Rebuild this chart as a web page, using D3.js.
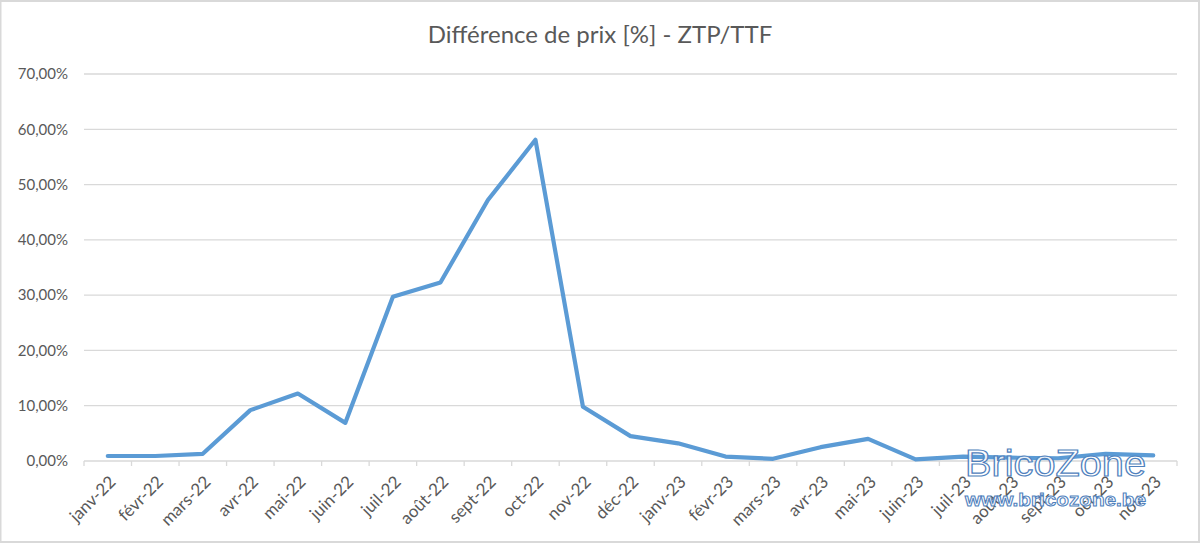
<!DOCTYPE html>
<html>
<head>
<meta charset="utf-8">
<script src="https://cdn.jsdelivr.net/npm/d3@7"></script>
<style>
  body { margin: 0; background: #fff; }
  svg { display: block; }
  .tick-label { font-family: Lato, "Open Sans", sans-serif; font-size: 15px; fill: #595959; }
  .x-label { font-size: 17px; }
</style>
</head>
<body>
<div id="chart"></div>
<script>
// Chart data
const months = ['janv-22', 'févr-22', 'mars-22', 'avr-22', 'mai-22', 'juin-22', 'juil-22', 'août-22',
    'sept-22', 'oct-22', 'nov-22', 'déc-22', 'janv-23', 'févr-23', 'mars-23', 'avr-23', 'mai-23',
    'juin-23', 'juil-23', 'août-23', 'sept-23', 'oct-23', 'nov-23'];
const diffPct = [0.9, 0.9, 1.3, 9.2, 12.2, 6.9, 29.7, 32.3, 47.2, 58.1, 9.8, 4.5, 3.2, 0.8, 0.4,
    2.5, 4.0, 0.3, 0.8, 0.6, 0.5, 1.3, 1.0];
const yTicks = [0, 10, 20, 30, 40, 50, 60, 70];
const title = 'Différence de prix [%] - ZTP/TTF';

const W = 1200, H = 544;
const margin = { top: 74, right: 23, bottom: 83, left: 84 };
const width = W - margin.left - margin.right;
const height = H - margin.top - margin.bottom;

const svg = d3.select('#chart').append('svg')
    .attr('width', W)
    .attr('height', H);

// outer frame
svg.append('rect')
    .attr('x', 0.5).attr('y', 1)
    .attr('width', W - 1.5).attr('height', H - 3)
    .attr('fill', '#fff')
    .attr('stroke', '#d9d9d9')
    .attr('stroke-width', 2);

svg.append('text')
    .attr('x', 600)
    .attr('y', 43)
    .attr('text-anchor', 'middle')
    .style('font-family', 'Lato, "Open Sans", sans-serif')
    .style('font-size', '24px')
    .style('fill', '#595959')
    .text(title);

const g = svg.append('g')
    .attr('transform', `translate(${margin.left},${margin.top})`);

const x = d3.scaleBand().domain(months).range([0, width]);
const y = d3.scaleLinear().domain([0, 70]).range([height, 0]);

// grid lines
g.append('g')
    .selectAll('line')
    .data(yTicks.filter(d => d > 0))
    .enter().append('line')
    .attr('x1', 0).attr('x2', width)
    .attr('y1', d => y(d)).attr('y2', d => y(d))
    .attr('stroke', '#d9d9d9')
    .attr('stroke-width', 1.3);

// y axis labels
const yAxis = d3.axisLeft(y)
    .tickValues(yTicks)
    .tickSize(0)
    .tickPadding(16)
    .tickFormat(d => d.toFixed(2).replace('.', ',') + '%');

g.append('g')
    .call(yAxis)
    .call(a => a.select('.domain').remove())
    .selectAll('text')
    .attr('class', 'tick-label');

// x axis with boundary ticks
const xAxisG = g.append('g').attr('transform', `translate(0,${height})`);
xAxisG.append('line')
    .attr('x1', 0).attr('x2', width)
    .attr('stroke', '#d9d9d9')
    .attr('stroke-width', 1.3);

const bounds = months.map(m => x(m)).concat([width]);
xAxisG.selectAll('.btick')
    .data(bounds)
    .enter().append('line')
    .attr('x1', d => d).attr('x2', d => d)
    .attr('y1', 0).attr('y2', 5)
    .attr('stroke', '#d9d9d9')
    .attr('stroke-width', 1.3);

xAxisG.selectAll('.xl')
    .data(months)
    .enter().append('text')
    .attr('class', 'tick-label x-label')
    .attr('text-anchor', 'end')
    .attr('transform', d => `translate(${x(d) + x.bandwidth() / 2 + 9},${22}) rotate(-45)`)
    .text(d => d);

// line
const line = d3.line()
    .x((d, i) => x(months[i]) + x.bandwidth() / 2)
    .y(d => y(d));

g.append('path')
    .datum(diffPct)
    .attr('d', line)
    .attr('fill', 'none')
    .attr('stroke', '#5b9bd5')
    .attr('stroke-width', 4.2)
    .attr('stroke-linejoin', 'round')
    .attr('stroke-linecap', 'round');

// watermark
svg.append('text')
    .attr('x', 965).attr('y', 476)
    .attr('textLength', 181)
    .attr('lengthAdjust', 'spacingAndGlyphs')
    .style('font-family', '"Liberation Sans", Arial, sans-serif')
    .style('font-size', '37px')
    .style('fill', '#fff')
    .style('fill-opacity', 0.85)
    .style('stroke', '#4f81bd')
    .style('stroke-width', 1.2)
    .text('BricoZone');

svg.append('text')
    .attr('x', 965).attr('y', 506)
    .attr('textLength', 181)
    .attr('lengthAdjust', 'spacingAndGlyphs')
    .style('font-family', '"Liberation Sans", Arial, sans-serif')
    .style('font-size', '19px')
    .style('font-weight', 'bold')
    .style('fill', '#fff')
    .style('fill-opacity', 0.85)
    .style('stroke', '#4f81bd')
    .style('stroke-width', 1)
    .text('www.bricozone.be');
</script>
</body>
</html>
